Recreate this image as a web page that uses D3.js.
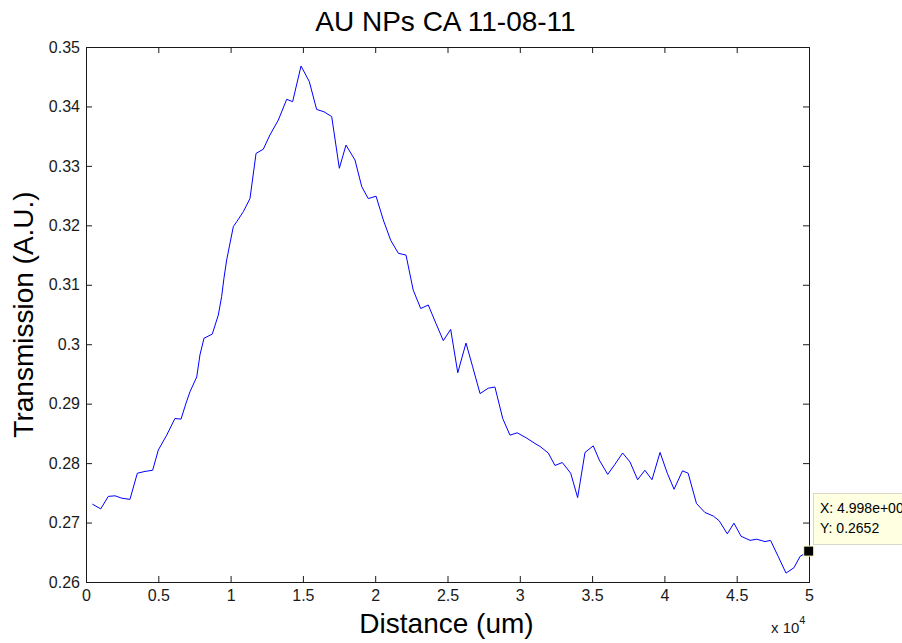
<!DOCTYPE html>
<html>
<head>
<meta charset="utf-8">
<script src="https://cdn.jsdelivr.net/npm/d3@7/dist/d3.min.js"></script>
<style>
  html, body { margin: 0; padding: 0; background: #fff; }
  svg { display: block; font-family: "Liberation Sans", Arial, Helvetica, sans-serif; }
</style>
</head>
<body>
<svg id="chart" width="902" height="643"></svg>
<script>
// ---- Data ----
const title = "AU NPs CA 11-08-11";
const xLabel = "Distance (um)";
const yLabel = "Transmission (A.U.)";

// Distance in um
const distance = [
  440, 1020, 1540, 2010, 2470, 3040, 3550, 4080, 4610, 5000,
  5580, 6150, 6570, 6920, 7190, 7660, 7880, 8160, 8730, 9150,
  9380, 9540, 9730, 10190, 10420, 10880, 11340, 11760, 12260, 12720,
  13300, 13880, 14290, 14870, 15440, 15950, 16460, 16990, 17520, 17980,
  18600, 19070, 19520, 20060, 20560, 21070, 21600, 22130, 22630, 23150,
  23670, 24200, 24710, 25220, 25710, 26280, 26740, 27250, 27820, 28280,
  28820, 29320, 29820, 30480, 31050, 31400, 31970, 32430, 32940, 33520,
  34000, 34510, 35080, 35500, 36080, 36580, 37110, 37620, 38150, 38650,
  39140, 39700, 40200, 40670, 41250, 41640, 42220, 42800, 43380, 43790,
  44350, 44810, 45300, 45920, 46380, 46960, 47340, 47870, 48410, 48960,
  49380, 49980
];
// Transmission (A.U.)
const transmission = [
  0.2731, 0.2723, 0.2744, 0.2745, 0.2741, 0.2739, 0.2783, 0.2786, 0.2788, 0.2822,
  0.2847, 0.2875, 0.2874, 0.2901, 0.2920, 0.2945, 0.2982, 0.3010, 0.3017, 0.3049,
  0.3080, 0.3111, 0.3142, 0.3198, 0.3206, 0.3223, 0.3245, 0.3321, 0.3328, 0.3352,
  0.3377, 0.3412, 0.3408, 0.3468, 0.3442, 0.3395, 0.3391, 0.3383, 0.3296, 0.3335,
  0.3310, 0.3265, 0.3245, 0.3249, 0.3209, 0.3175, 0.3153, 0.3150, 0.3091, 0.3060,
  0.3066, 0.3035, 0.3006, 0.3025, 0.2952, 0.3002, 0.2962, 0.2917, 0.2926, 0.2928,
  0.2875, 0.2847, 0.2851, 0.2842, 0.2833, 0.2828, 0.2817, 0.2796, 0.2801, 0.2783,
  0.2742, 0.2818, 0.2829, 0.2805, 0.2781, 0.2798, 0.2817, 0.2802, 0.2772, 0.2788,
  0.2772, 0.2818, 0.2783, 0.2756, 0.2787, 0.2783, 0.2732, 0.2717, 0.2711, 0.2703,
  0.2681, 0.2699, 0.2677, 0.2670, 0.2672, 0.2668, 0.2670, 0.2643, 0.2615, 0.2624,
  0.2643, 0.2652
];

const xTicks = [0, 5000, 10000, 15000, 20000, 25000, 30000, 35000, 40000, 45000, 50000];
const xTickLabels = ["0", "0.5", "1", "1.5", "2", "2.5", "3", "3.5", "4", "4.5", "5"];
const yTicks = [0.26, 0.27, 0.28, 0.29, 0.30, 0.31, 0.32, 0.33, 0.34, 0.35];
const yTickLabels = ["0.26", "0.27", "0.28", "0.29", "0.3", "0.31", "0.32", "0.33", "0.34", "0.35"];

const tipX = "X: 4.998e+004";
const tipY = "Y: 0.2652";
const tipIndex = distance.length - 1;

// ---- Layout ----
const L = 86, R = 809, T = 47, B = 582;
const svg = d3.select("#chart");

const x = d3.scaleLinear().domain([0, 50000]).range([L, R]);
const y = d3.scaleLinear().domain([0.26, 0.35]).range([B, T]);

const axisColor = "#1a1a1a";
const tickFont = 16;

function styleAxis(g) {
  g.select(".domain").remove();
  g.selectAll(".tick line").attr("stroke", axisColor);
  g.selectAll(".tick text").attr("fill", "#1a1a1a").style("font-size", tickFont + "px");
}

// bottom axis (inward ticks)
svg.append("g")
  .attr("transform", `translate(0,${B})`)
  .call(d3.axisBottom(x).tickValues(xTicks).tickSizeInner(-6).tickSizeOuter(0).tickPadding(8)
    .tickFormat((d, i) => xTickLabels[i]))
  .call(styleAxis);

// top axis
svg.append("g")
  .attr("transform", `translate(0,${T})`)
  .call(d3.axisTop(x).tickValues(xTicks).tickSizeInner(-6).tickSizeOuter(0).tickFormat(""))
  .call(styleAxis);

// left axis
svg.append("g")
  .attr("transform", `translate(${L},0)`)
  .call(d3.axisLeft(y).tickValues(yTicks).tickSizeInner(-6).tickSizeOuter(0).tickPadding(6)
    .tickFormat((d, i) => yTickLabels[i]))
  .call(styleAxis);

// right axis
svg.append("g")
  .attr("transform", `translate(${R},0)`)
  .call(d3.axisRight(y).tickValues(yTicks).tickSizeInner(-6).tickSizeOuter(0).tickFormat(""))
  .call(styleAxis);

// box
svg.append("rect")
  .attr("x", L + 0.5).attr("y", T + 0.5)
  .attr("width", R - L).attr("height", B - T)
  .attr("fill", "none").attr("stroke", axisColor).attr("stroke-width", 1);

// data line
const pts = distance.map((d, i) => [d, transmission[i]]);
svg.append("path")
  .datum(pts)
  .attr("fill", "none")
  .attr("stroke", "#0000ff")
  .attr("stroke-width", 1)
  .attr("d", d3.line().x(d => x(d[0])).y(d => y(d[1])));

// title
svg.append("text")
  .attr("x", (L + R) / 2 - 2).attr("y", 31)
  .attr("text-anchor", "middle")
  .style("font-size", "28px").attr("fill", "#000")
  .text(title);

// x label
svg.append("text")
  .attr("x", (L + R) / 2 - 1).attr("y", 633)
  .attr("text-anchor", "middle")
  .style("font-size", "28px").attr("fill", "#000")
  .text(xLabel);

// y label
svg.append("text")
  .attr("transform", `translate(33,${(T + B) / 2}) rotate(-90)`)
  .attr("text-anchor", "middle")
  .style("font-size", "28px").attr("fill", "#000")
  .text(yLabel);

// exponent "x 10^4"
const ex = svg.append("text")
  .attr("x", 771).attr("y", 633)
  .style("font-size", "15px").attr("fill", "#1a1a1a");
ex.append("tspan").text("x 10");
ex.append("tspan").attr("dy", -9).style("font-size", "11px").text("4");

// data tip (the reference itself shows this box cut off by the figure edge)
const tx = x(distance[tipIndex]), ty = y(transmission[tipIndex]);
svg.append("rect")
  .attr("x", 813.5).attr("y", 493.5)
  .attr("width", 120).attr("height", 51)
  .attr("fill", "#ffffe1").attr("stroke", "#d8d8c8").attr("stroke-width", 1);
svg.append("text").attr("x", 820).attr("y", 513)
  .style("font-size", "14px").attr("fill", "#000").text(tipX);
svg.append("text").attr("x", 820).attr("y", 533)
  .style("font-size", "14px").attr("fill", "#000").text(tipY);
svg.append("rect")
  .attr("x", tx - 5).attr("y", ty - 5)
  .attr("width", 10).attr("height", 10)
  .attr("fill", "#000").attr("stroke", "#ffffc8").attr("stroke-width", 1);
</script>
</body>
</html>
